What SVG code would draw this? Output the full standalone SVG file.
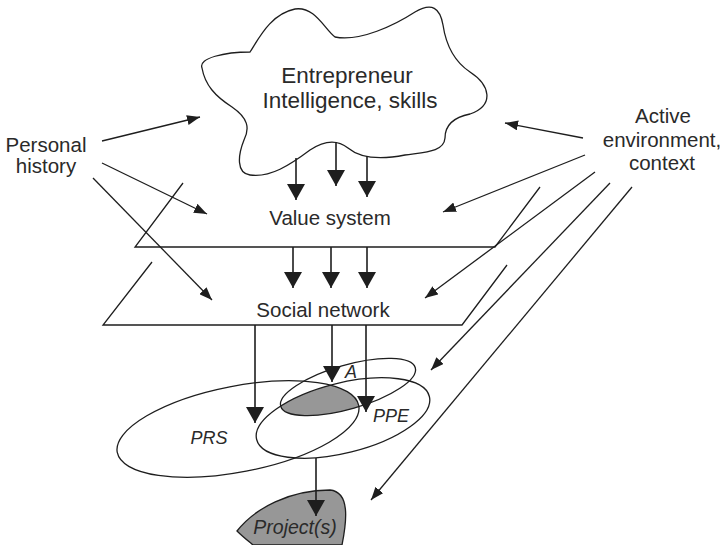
<svg xmlns="http://www.w3.org/2000/svg" width="723" height="545" viewBox="0 0 723 545">
  <style>
    .ln { fill: none; stroke: #1e1e1e; stroke-width: 1.3; }
    .thick { fill: none; stroke: #1e1e1e; stroke-width: 1.6; }
    .shape { fill: none; stroke: #1e1e1e; stroke-width: 1.3; }
    .shade { fill: #979797; }
    .lbl { font-family: "Liberation Sans", Arial, sans-serif; font-size: 20.5px; fill: #2a2a2a; text-anchor: middle; }
    .big { font-size: 22.5px; }
    .it { font-style: italic; font-size: 18px; }
    .proj { font-size: 19.5px; }
  </style>
  <defs>
    <marker id="head" viewBox="0 0 16 18" refX="16" refY="9" markerWidth="16" markerHeight="18" markerUnits="userSpaceOnUse" orient="auto">
      <path d="M0,0 L16,9 L0,18 Z" fill="#1e1e1e"/>
    </marker>
    <marker id="tip" viewBox="0 0 13 10" refX="13" refY="5" markerWidth="13" markerHeight="10" markerUnits="userSpaceOnUse" orient="auto">
      <path d="M0,0 L13,5 L0,10 Z" fill="#1e1e1e"/>
    </marker>
    <clipPath id="clipPRS">
      <ellipse cx="238" cy="429" rx="123" ry="43" transform="rotate(-11 238 429)"/>
    </clipPath>
    <clipPath id="clipPPE">
      <ellipse cx="343" cy="418" rx="89" ry="35" transform="rotate(-14 343 418)"/>
    </clipPath>
  </defs>

  <!-- Entrepreneur cloud -->
  <g id="entrepreneur">
    <path class="shape" d="M202,68 C198,58 225,52 250,52 C258,40 270,14 295,9 C315,6 325,30 335,37 C360,42 395,25 415,12 C432,2 440,8 443,25 C446,45 455,62 470,72 C490,85 495,105 470,114 C450,118 445,128 445,138 C444,152 425,152 405,155 C380,160 360,158 348,148 C338,140 325,140 310,150 C290,165 270,178 250,175 C236,173 238,155 244,140 C250,128 248,118 232,107 C215,96 205,85 202,68 Z"/>
    <text class="lbl big" x="347" y="83">Entrepreneur</text>
    <text class="lbl big" x="350" y="108">Intelligence, skills</text>
  </g>

  <!-- Value system plane (open parallelogram) -->
  <g id="value-system">
    <path class="shape" d="M183,183 L135,247 L495,247 L540,187"/>
    <text class="lbl" x="330" y="225">Value system</text>
  </g>

  <!-- Social network plane -->
  <g id="social-network">
    <path class="shape" d="M152,262 L103,325 L462,325 L507,265"/>
    <text class="lbl" x="323" y="317">Social network</text>
  </g>

  <!-- Overlapping sets: shaded area is the common part of all three -->
  <g id="sets">
    <g clip-path="url(#clipPRS)">
      <g clip-path="url(#clipPPE)">
        <ellipse class="shade" cx="348" cy="387" rx="70" ry="22" transform="rotate(-16 348 387)"/>
      </g>
    </g>
    <ellipse class="shape" cx="238" cy="429" rx="123" ry="43" transform="rotate(-11 238 429)"/>
    <ellipse class="shape" cx="343" cy="418" rx="89" ry="35" transform="rotate(-14 343 418)"/>
    <ellipse class="shape" cx="348" cy="387" rx="70" ry="22" transform="rotate(-16 348 387)"/>
  </g>
  <g id="set-a"><text class="lbl it" x="351" y="378">A</text></g>
  <g id="set-ppe"><text class="lbl it" x="391" y="422">PPE</text></g>
  <g id="set-prs"><text class="lbl it" x="209" y="444">PRS</text></g>

  <!-- Project(s) -->
  <g id="projects">
    <path class="shade" stroke="#1e1e1e" stroke-width="1.3" d="M237,531 C255,508 290,490 330,490 C350,492 347,520 342,545 L253,545 C247,540 242,536 237,531 Z"/>
    <text class="lbl it proj" x="295" y="534">Project(s)</text>
  </g>

  <!-- Side labels -->
  <g id="personal-history">
    <text class="lbl" x="46" y="152">Personal</text>
    <text class="lbl" x="46" y="173">history</text>
  </g>
  <g id="active-environment">
    <text class="lbl" x="663" y="123">Active</text>
    <text class="lbl" x="662" y="147">environment,</text>
    <text class="lbl" x="662" y="170">context</text>
  </g>

  <!-- Connectors -->
  <g id="connectors">
    <!-- cloud to value system -->
    <line class="thick" x1="296" y1="158" x2="296" y2="200" marker-end="url(#head)"/>
    <line class="thick" x1="336" y1="142" x2="336" y2="186" marker-end="url(#head)"/>
    <line class="thick" x1="367" y1="156" x2="367" y2="197" marker-end="url(#head)"/>
    <!-- value system to social network -->
    <line class="thick" x1="293" y1="247" x2="293" y2="288" marker-end="url(#head)"/>
    <line class="thick" x1="331" y1="247" x2="331" y2="288" marker-end="url(#head)"/>
    <line class="thick" x1="367" y1="247" x2="367" y2="288" marker-end="url(#head)"/>
    <!-- social network to sets -->
    <line class="thick" x1="255" y1="325" x2="255" y2="423" marker-end="url(#head)"/>
    <line class="thick" x1="332" y1="325" x2="332" y2="382" marker-end="url(#head)"/>
    <line class="thick" x1="366" y1="325" x2="366" y2="412" marker-end="url(#head)"/>
    <!-- sets to project -->
    <line class="thick" x1="316" y1="458" x2="316" y2="516" marker-end="url(#head)"/>

    <!-- personal history -->
    <line class="ln" x1="102" y1="141" x2="200" y2="117" marker-end="url(#tip)"/>
    <line class="ln" x1="102" y1="163" x2="207" y2="214" marker-end="url(#tip)"/>
    <line class="ln" x1="93" y1="178" x2="212" y2="300" marker-end="url(#tip)"/>

    <!-- active environment, context -->
    <line class="ln" x1="583" y1="138" x2="505" y2="123" marker-end="url(#tip)"/>
    <line class="ln" x1="585" y1="155" x2="443" y2="212" marker-end="url(#tip)"/>
    <line class="ln" x1="595" y1="172" x2="425" y2="298" marker-end="url(#tip)"/>
    <line class="ln" x1="610" y1="183" x2="431" y2="370" marker-end="url(#tip)"/>
    <line class="ln" x1="632" y1="187" x2="371" y2="500" marker-end="url(#tip)"/>
  </g>
</svg>
